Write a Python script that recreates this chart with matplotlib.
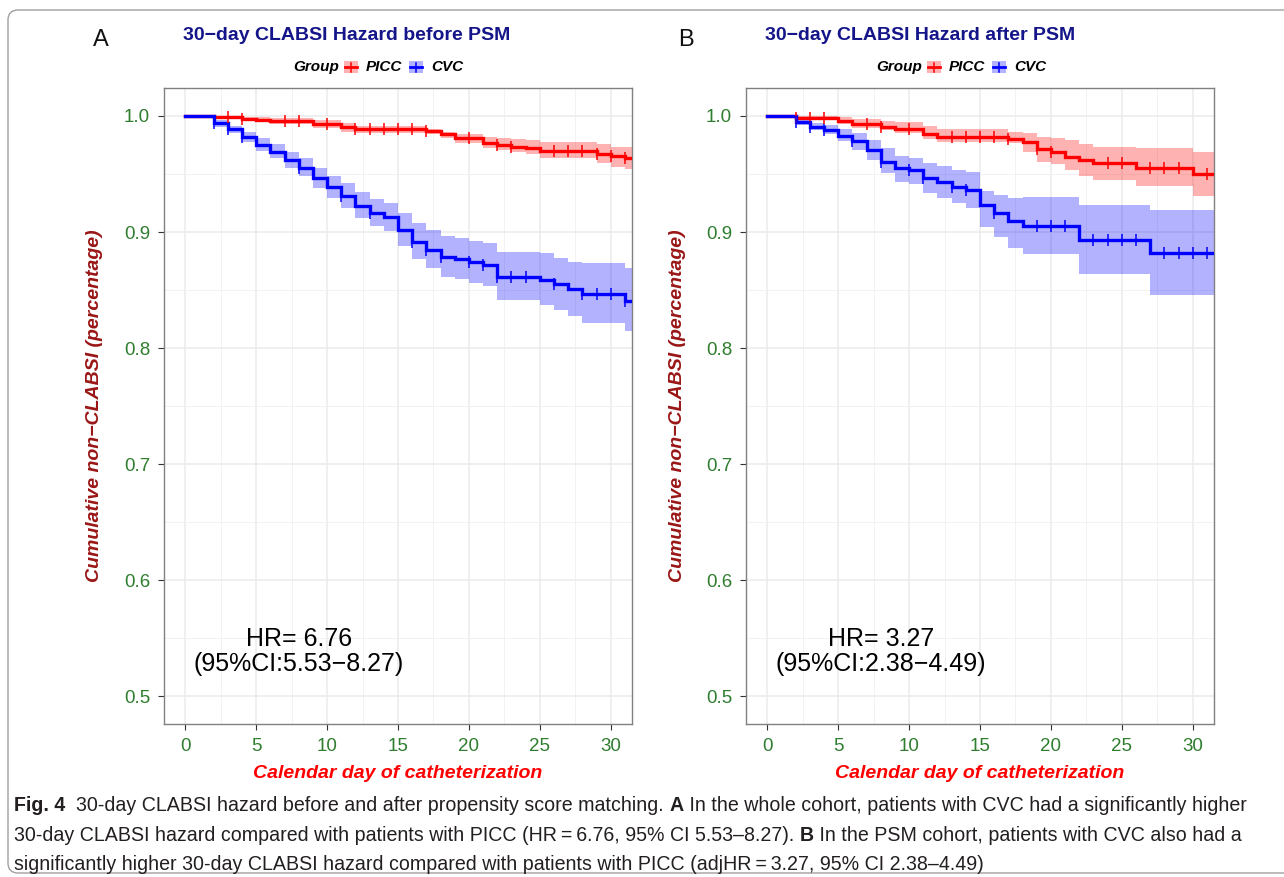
import matplotlib
matplotlib.use("Agg")
import matplotlib.pyplot as plt
import numpy as np
from matplotlib.patches import Rectangle, FancyBboxPatch
from matplotlib.lines import Line2D
from matplotlib.transforms import IdentityTransform

# ---------------- data (Kaplan-Meier estimates) ----------------
# Panel A: before PSM
a_picc_time = [0, 2, 4, 5, 6, 9, 11, 12, 17, 18, 19, 21, 22, 23, 24, 25, 29, 30, 31]
a_picc_surv = [1.0, 0.9988, 0.9978, 0.9966, 0.9955, 0.9928, 0.9905, 0.9888, 0.9871, 0.9842,
               0.9813, 0.9765, 0.9750, 0.9736, 0.9722, 0.9702, 0.9673, 0.9659, 0.9641]
a_picc_upper = [1.0, 0.9997, 0.9994, 0.9988, 0.9982, 0.9962, 0.9942, 0.9910, 0.9888, 0.9865,
                0.9842, 0.9822, 0.9808, 0.9800, 0.9794, 0.9773, 0.9756, 0.9736, 0.9736]
a_picc_lower = [1.0, 0.9974, 0.9962, 0.9945, 0.9930, 0.9895, 0.9865, 0.9855, 0.9842, 0.9808,
                0.9771, 0.9722, 0.9707, 0.9693, 0.9670, 0.9636, 0.9593, 0.9564, 0.9544]
a_picc_censor = [3, 4, 7, 8, 10, 12, 13, 14, 15, 16, 17, 20, 22, 23, 26, 27, 28, 29, 30, 31]

a_cvc_time = [0, 2, 3, 4, 5, 6, 7, 8, 9, 10, 11, 12, 13, 14, 15, 16, 17, 18, 19, 20, 21, 22,
              25, 26, 27, 28, 31]
a_cvc_surv = [1.0, 0.9937, 0.9885, 0.9822, 0.9750, 0.9693, 0.9625, 0.9555, 0.9466, 0.9392,
              0.9308, 0.9222, 0.9165, 0.9134, 0.9019, 0.8918, 0.8847, 0.8789, 0.8768, 0.8738,
              0.8712, 0.8617, 0.8589, 0.8553, 0.8508, 0.8468, 0.8410]
a_cvc_upper = [1.0, 0.9966, 0.9917, 0.9865, 0.9808, 0.9756, 0.9693, 0.9636, 0.9555, 0.9487,
               0.9421, 0.9343, 0.9289, 0.9254, 0.9162, 0.9076, 0.9019, 0.8967, 0.8950, 0.8920,
               0.8904, 0.8828, 0.8818, 0.8775, 0.8746, 0.8730, 0.8689]
a_cvc_lower = [1.0, 0.9908, 0.9851, 0.9779, 0.9699, 0.9636, 0.9555, 0.9487, 0.9383, 0.9297,
               0.9211, 0.9119, 0.9048, 0.9005, 0.8881, 0.8766, 0.8689, 0.8617, 0.8594, 0.8560,
               0.8531, 0.8417, 0.8373, 0.8330, 0.8273, 0.8216, 0.8144]
a_cvc_censor = [2, 3, 4, 8, 11, 13, 16, 17, 18, 20, 21, 22, 23, 24, 26, 28, 29, 30, 31]

# Panel B: after PSM
b_picc_time = [0, 2, 5, 6, 8, 9, 11, 12, 17, 18, 19, 20, 21, 22, 23, 26, 30]
b_picc_surv = [1.0, 0.9985, 0.9958, 0.9930, 0.9908, 0.9888, 0.9846, 0.9820, 0.9800, 0.9772,
               0.9713, 0.9693, 0.9644, 0.9621, 0.9593, 0.9555, 0.9501]
b_picc_upper = [1.0, 1.0, 0.9990, 0.9975, 0.9960, 0.9945, 0.9915, 0.9892, 0.9865, 0.9851,
                0.9816, 0.9808, 0.9794, 0.9756, 0.9736, 0.9722, 0.9693]
b_picc_lower = [1.0, 0.9966, 0.9935, 0.9900, 0.9875, 0.9850, 0.9800, 0.9779, 0.9765, 0.9687,
                0.9601, 0.9584, 0.9535, 0.9487, 0.9449, 0.9398, 0.9314]
b_picc_censor = [2, 3, 4, 7, 8, 10, 13, 14, 15, 16, 17, 19, 20, 24, 25, 27, 28, 29, 31]

b_cvc_time = [0, 2, 3, 4, 5, 6, 7, 8, 9, 10, 11, 12, 13, 14, 15, 16, 17, 18, 22, 27]
b_cvc_surv = [1.0, 0.9946, 0.9908, 0.9880, 0.9831, 0.9785, 0.9707, 0.9601, 0.9550, 0.9535,
              0.9469, 0.9429, 0.9392, 0.9363, 0.9234, 0.9168, 0.9091, 0.9056, 0.8933, 0.8818]
b_cvc_upper = [1.0, 0.9966, 0.9937, 0.9923, 0.9888, 0.9851, 0.9794, 0.9722, 0.9659, 0.9641,
               0.9593, 0.9573, 0.9535, 0.9521, 0.9350, 0.9320, 0.9295, 0.9300, 0.9230, 0.9191]
b_cvc_lower = [1.0, 0.9923, 0.9880, 0.9842, 0.9785, 0.9707, 0.9621, 0.9507, 0.9429, 0.9412,
               0.9335, 0.9291, 0.9248, 0.9205, 0.9040, 0.8960, 0.8862, 0.8812, 0.8640, 0.8460]
b_cvc_censor = [2, 3, 4, 6, 8, 10, 11, 13, 14, 16, 19, 20, 21, 23, 24, 25, 26, 28, 29, 30, 31]

x_ticks = [0, 5, 10, 15, 20, 25, 30]
y_ticks = [0.5, 0.6, 0.7, 0.8, 0.9, 1.0]
titles = ["30\u2212day CLABSI Hazard before PSM", "30\u2212day CLABSI Hazard after PSM"]
panel_letters = ["A", "B"]
hr_lines = [("HR= 6.76", "(95%CI:5.53\u22128.27)"), ("HR= 3.27", "(95%CI:2.38\u22124.49)")]
group_names = ["PICC", "CVC"]
x_label = "Calendar day of catheterization"
y_label = "Cumulative non\u2212CLABSI (percentage)"
caption_lines = [
    [("Fig. 4", "bold"), ("  30-day CLABSI hazard before and after propensity score matching. ", "normal"),
     ("A", "bold"), (" In the whole cohort, patients with CVC had a significantly higher", "normal")],
    [("30-day CLABSI hazard compared with patients with PICC (HR\u2009=\u20096.76, 95% CI 5.53\u20138.27). ", "normal"),
     ("B", "bold"), (" In the PSM cohort, patients with CVC also had a", "normal")],
    [("significantly higher 30-day CLABSI hazard compared with patients with PICC (adjHR\u2009=\u20093.27, 95% CI 2.38\u20134.49)", "normal")],
]

# ---------------- styling ----------------
W, H = 1284, 877
RED, BLUE = "#FF0000", "#0000FF"
RED_FILL, BLUE_FILL = "#FF0000", "#0000FF"
GREEN = "#2F7D2F"
TITLE_COL = "#15158A"
YLAB_COL = "#9A1616"
FONT = ["Liberation Sans", "DejaVu Sans"]
CAP_FONT = ["Liberation Sans", "DejaVu Sans"]

plt.rcParams["font.family"] = FONT

fig = plt.figure(figsize=(W / 100, H / 100), dpi=100)


def fx(px):
    return px / W


def fy(py):
    return 1 - py / H


def draw_group(ax, t, s, lo, hi, cens, color, fcol):
    t = np.asarray(t, float)
    s = np.asarray(s, float)
    lo = np.asarray(lo, float)
    hi = np.asarray(hi, float)
    te = np.append(t, 34.0)
    se = np.append(s, s[-1])
    loe = np.append(lo, lo[-1])
    hie = np.append(hi, hi[-1])
    ax.fill_between(te, loe, hie, step="post", color=fcol, alpha=0.3, lw=0, zorder=2)
    ax.step(te, se, where="post", color=color, lw=2.4, zorder=3, solid_joinstyle="miter")
    cens = np.asarray(cens, float)
    idx = np.searchsorted(t, cens, side="right") - 1
    ax.plot(cens, s[idx], ls="none", marker="|", ms=8, mew=1.1, color=color, zorder=4)


panels = [
    (164, (a_picc_time, a_picc_surv, a_picc_lower, a_picc_upper, a_picc_censor),
     (a_cvc_time, a_cvc_surv, a_cvc_lower, a_cvc_upper, a_cvc_censor), 347, 93, 293),
    (746, (b_picc_time, b_picc_surv, b_picc_lower, b_picc_upper, b_picc_censor),
     (b_cvc_time, b_cvc_surv, b_cvc_lower, b_cvc_upper, b_cvc_censor), 920, 678, 876),
]

for i, (left, picc, cvc, tcx, letx, legx) in enumerate(panels):
    ax = fig.add_axes([fx(left), fy(724), 468 / W, 636 / H])
    ax.set_xlim(-1.5, 31.5)
    ax.set_ylim(0.4762, 1.0241)
    ax.set_xticks(x_ticks)
    ax.set_xticks(np.arange(2.5, 31, 5), minor=True)
    ax.set_yticks(y_ticks)
    ax.set_yticks(np.arange(0.55, 1.0, 0.1), minor=True)
    ax.set_yticklabels(["%.1f" % v for v in y_ticks])
    ax.grid(which="major", color="#EBEBEB", lw=1.1)
    ax.grid(which="minor", color="#F2F2F2", lw=0.7)
    ax.set_axisbelow(True)
    for sp in ax.spines.values():
        sp.set_color("#808080")
        sp.set_linewidth(1.0)
    ax.tick_params(which="major", length=4, width=0.8, color="#333333",
                   labelcolor=GREEN, labelsize=13.5, pad=6)
    ax.tick_params(which="minor", length=0)

    draw_group(ax, *picc, RED, RED_FILL)
    draw_group(ax, *cvc, BLUE, BLUE_FILL)

    # HR annotation
    ax.text(8.0, 0.5490, hr_lines[i][0], ha="center", va="center", fontsize=18, color="black")
    ax.text(8.0, 0.5280, hr_lines[i][1], ha="center", va="center", fontsize=18, color="black")

    # axis labels
    cx = left + 234
    fig.text(fx(cx), fy(773), x_label, ha="center", va="center", color="#FF0000",
             fontsize=14, fontweight="bold", fontstyle="italic")
    fig.text(fx(left - 69), fy(406), y_label, ha="center", va="center", color=YLAB_COL,
             fontsize=14, fontweight="bold", fontstyle="italic", rotation=90)

    # title and panel letter
    fig.text(fx(tcx), fy(35), titles[i], ha="center", va="center", color=TITLE_COL,
             fontsize=14, fontweight="bold")
    fig.text(fx(letx), fy(40), panel_letters[i], ha="left", va="center", color="#111111",
             fontsize=17)

    # legend
    fig.text(fx(legx), fy(67), "Group", ha="left", va="center", fontsize=11,
             fontweight="bold", fontstyle="italic", color="black")
    x0 = legx + 51
    for col, name in [(RED, group_names[0]), (BLUE, group_names[1])]:
        fig.patches.append(Rectangle((fx(x0), fy(73)), 14 / W, 12 / H, transform=fig.transFigure,
                                     facecolor=col, alpha=0.3, lw=0))
        fig.lines.append(Line2D([fx(x0 + 1), fx(x0 + 13)], [fy(67), fy(67)],
                                transform=fig.transFigure, color=col, lw=2))
        fig.lines.append(Line2D([fx(x0 + 7), fx(x0 + 7)], [fy(62.5), fy(71.5)],
                                transform=fig.transFigure, color=col, lw=1.1))
        fig.text(fx(x0 + 22), fy(67), name, ha="left", va="center", fontsize=11,
                 fontweight="bold", fontstyle="italic", color="black")
        x0 += 65 if name == group_names[0] else 0

# outer rounded frame
fig.patches.append(FancyBboxPatch((8, 4), 1320, 863, boxstyle="round,pad=0,rounding_size=10",
                                  transform=IdentityTransform(), facecolor="none",
                                  edgecolor="#A0A0A0", lw=1.0))

# caption with mixed weights
renderer = fig.canvas.get_renderer()


def advance(txt, weight, size):
    t1 = fig.text(0, 0, txt + "|", fontsize=size, fontweight=weight, family=CAP_FONT)
    t2 = fig.text(0, 0, "|", fontsize=size, fontweight=weight, family=CAP_FONT)
    w = t1.get_window_extent(renderer).width - t2.get_window_extent(renderer).width
    t1.remove()
    t2.remove()
    return w


base = 10.0
w1 = sum(advance(tx, wt, base) for tx, wt in caption_lines[0])
cap_size = base * (1231.0 / w1)
baselines = [811, 841, 870]
for line, yb in zip(caption_lines, baselines):
    x = 14.0
    for tx, wt in line:
        fig.text(fx(x), fy(yb), tx, ha="left", va="baseline", fontsize=cap_size,
                 fontweight=wt, family=CAP_FONT, color="#231F20")
        x += advance(tx, wt, cap_size)

fig.savefig("out.png", dpi=100)
